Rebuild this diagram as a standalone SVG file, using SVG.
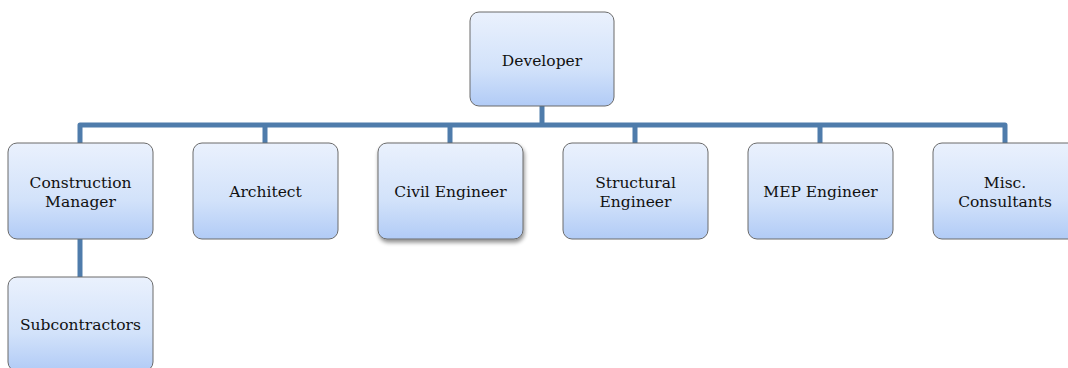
<svg xmlns="http://www.w3.org/2000/svg" width="1068" height="368" viewBox="0 0 1068 368">
<defs>
<linearGradient id="g" x1="0" y1="0" x2="0" y2="1">
<stop offset="0" stop-color="#eaf1fd"/>
<stop offset="0.6" stop-color="#d2e2fa"/>
<stop offset="1" stop-color="#b1cbf6"/>
</linearGradient>
<filter id="sh" x="-10%" y="-10%" width="130%" height="130%">
<feGaussianBlur in="SourceAlpha" stdDeviation="2"/>
<feOffset dx="1" dy="3" result="b"/>
<feComponentTransfer><feFuncA type="linear" slope="0.45"/></feComponentTransfer>
<feMerge><feMergeNode/><feMergeNode in="SourceGraphic"/></feMerge>
</filter>
</defs>
<style>
.box{fill:url(#g);stroke:#6b6b6b;stroke-width:1}
.t{font-family:"DejaVu Serif","Liberation Serif",serif;font-size:15.5px;fill:#111;text-anchor:middle}
.c{fill:none;stroke:#4f7cab;stroke-width:5;stroke-linejoin:round}
</style>
<g id="connectors">
<path class="c" d="M542 106V125"/>
<path class="c" d="M80 143V125H1005V143"/>
<path class="c" d="M265 125V143M450 125V143M635 125V143M820 125V143"/>
<path class="c" d="M80 239V277"/>
</g>
<g id="developer"><rect class="box" x="470" y="12" width="144" height="94" rx="9"/><text class="t" x="542" y="66">Developer</text></g>
<g id="construction-manager"><rect class="box" x="8" y="143" width="145" height="96" rx="9"/><text class="t" x="80.5" y="188">Construction</text><text class="t" x="80.5" y="207">Manager</text></g>
<g id="architect"><rect class="box" x="193" y="143" width="145" height="96" rx="9"/><text class="t" x="265.5" y="197">Architect</text></g>
<g id="civil-engineer"><rect class="box" x="378" y="143" width="145" height="96" rx="9" filter="url(#sh)"/><text class="t" x="450.5" y="197">Civil Engineer</text></g>
<g id="structural-engineer"><rect class="box" x="563" y="143" width="145" height="96" rx="9"/><text class="t" x="635.5" y="188">Structural</text><text class="t" x="635.5" y="207">Engineer</text></g>
<g id="mep-engineer"><rect class="box" x="748" y="143" width="145" height="96" rx="9"/><text class="t" x="820.5" y="197">MEP Engineer</text></g>
<g id="misc-consultants"><rect class="box" x="933" y="143" width="145" height="96" rx="9"/><text class="t" x="1005" y="188">Misc.</text><text class="t" x="1005" y="207">Consultants</text></g>
<g id="subcontractors"><rect class="box" x="8" y="277" width="145" height="94" rx="9"/><text class="t" x="80.5" y="330">Subcontractors</text></g>
</svg>
